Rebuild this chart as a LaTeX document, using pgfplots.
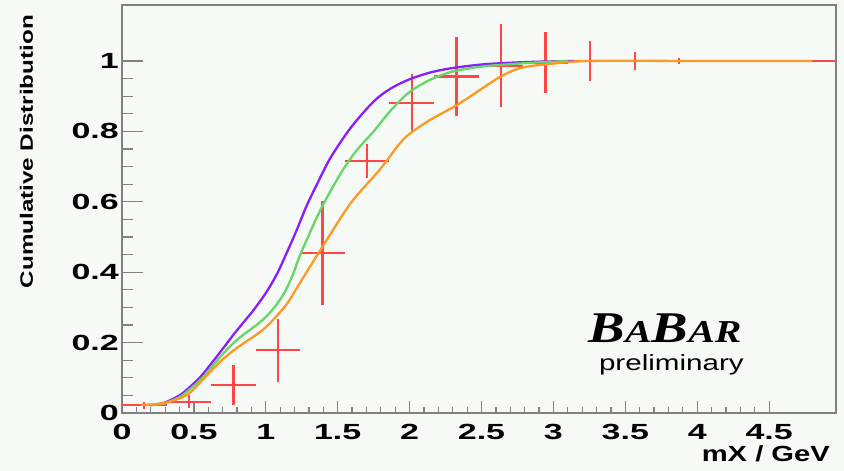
\documentclass[border=0pt]{standalone}
\usepackage{pgfplots}
\pgfplotsset{compat=1.18}
\usepackage{pgfplotstable}
\usepackage{graphicx}
\usepackage{fontspec}
\setmainfont{Liberation Sans}
\newfontfamily\babarfont{Liberation Serif}
\definecolor{bg}{RGB}{246,250,247}
\definecolor{cpurple}{RGB}{138,30,255}
\definecolor{cgreen}{RGB}{102,214,102}
\definecolor{corange}{RGB}{255,153,34}
\definecolor{cred}{RGB}{255,70,70}
\definecolor{framec}{RGB}{128,128,128}

\pgfplotstableread{
x      y      ex     ey
0.155  0.022  0.155  0.010
0.465  0.032  0.155  0.018
0.775  0.080  0.155  0.057
1.085  0.178  0.155  0.089
1.395  0.455  0.155  0.148
1.705  0.715  0.155  0.048
2.015  0.880  0.155  0.082
2.325  0.956  0.155  0.112
2.635  0.986  0.155  0.118
2.945  0.995  0.155  0.087
3.255  0.999  0.155  0.057
3.565  1.000  0.155  0.025
3.875  1.000  0.155  0.008
4.185  1.000  0.155  0.003
4.495  1.000  0.155  0.000
4.805  1.000  0.155  0.000
}\datatab

\begin{document}
\begin{tikzpicture}
\fill[bg] (-122bp,-58bp) rectangle (722bp,413bp);
\useasboundingbox (-122bp,-58bp) rectangle (722bp,413bp);
\begin{axis}[
  at={(0,0)}, anchor=south west,
  width=714bp, height=408bp, scale only axis,
  xmin=0, xmax=4.965, ymin=0, ymax=1.159,
  axis background/.style={fill=bg},
  axis line style={framec, line width=1.5bp},
  tick style={framec, line width=1.2bp},
  tick align=inside, xtick pos=bottom, ytick pos=left,
  xtick={0,0.5,1,1.5,2,2.5,3,3.5,4,4.5}, minor x tick num=4,
  ytick={0,0.2,0.4,0.6,0.8,1}, minor y tick num=3,
  major tick length=12bp, minor tick length=6bp,
  ytick style={draw=none},
  ticklabel style={font=\fontsize{22}{22}\selectfont\bfseries},
  xticklabel={\scalebox{1.55}[1]{\pgfmathprintnumber[assume math mode=true]{\tick}}},
  yticklabel={\scalebox{1.55}[1]{\pgfmathprintnumber[assume math mode=true]{\tick}}},
  xticklabel style={inner ysep=0bp, yshift=-11bp},
  yticklabel style={inner xsep=3bp},
  xlabel={\scalebox{1.33}[1]{mX / GeV}},
  xlabel style={at={(axis description cs:1,0)}, anchor=base east, inner sep=0pt,
    xshift=-6bp, yshift=-48bp, font=\fontsize{22}{22}\selectfont\bfseries},
  ylabel={\scalebox{1.35}[1]{Cumulative Distribution}},
  ylabel style={at={(axis description cs:-0.1337,0.9755)}, anchor=east, rotate=0, inner sep=0pt,
    font=\fontsize{18}{18}\selectfont\bfseries},
]
\addplot[draw=none, mark=none,
  error bars/.cd, x dir=both, x explicit, y dir=both, y explicit,
  error mark=none, error bar style={draw=cred, line width=2.3bp}]
  table[x=x, y=y, x error=ex, y error=ey] {\datatab};

\addplot[cpurple, line width=2.3bp, smooth] coordinates {
(0.20,0.022)(0.30,0.030)(0.40,0.050)(0.45,0.066)(0.54,0.100)(0.62,0.140)
(0.70,0.182)(0.78,0.225)(0.85,0.260)(0.92,0.295)(1.01,0.347)(1.08,0.397)
(1.14,0.450)(1.21,0.515)(1.28,0.585)(1.35,0.645)(1.45,0.725)(1.59,0.810)
(1.75,0.885)(1.87,0.922)(2.00,0.948)(2.15,0.968)(2.30,0.980)(2.50,0.990)
(2.70,0.995)(2.90,0.998)(3.15,1.000)};

\addplot[cgreen, line width=2.3bp, smooth] coordinates {
(0.20,0.022)(0.30,0.028)(0.40,0.045)(0.45,0.060)(0.56,0.100)(0.68,0.158)
(0.80,0.208)(0.96,0.258)(1.05,0.295)(1.13,0.342)(1.19,0.395)(1.24,0.450)
(1.38,0.577)(1.52,0.680)(1.63,0.745)(1.75,0.800)(1.87,0.860)(2.00,0.912)
(2.15,0.948)(2.30,0.970)(2.50,0.984)(2.70,0.991)(2.90,0.996)(3.10,1.000)};

\addplot[corange, line width=2.3bp, smooth] coordinates {
(0.13,0.023)(0.29,0.028)(0.45,0.051)(0.56,0.094)(0.68,0.145)(0.80,0.185)
(0.96,0.230)(1.05,0.264)(1.15,0.312)(1.22,0.358)(1.38,0.463)(1.59,0.596)
(1.79,0.690)(1.93,0.765)(2.00,0.793)(2.14,0.832)(2.33,0.875)(2.49,0.918)
(2.63,0.955)(2.77,0.980)(2.96,0.991)(3.25,1.000)(4.00,1.000)(4.80,1.000)};

\node[anchor=base, font=\babarfont\bfseries\itshape] at (axis cs:3.776,0.199)
  {\scalebox{1.25}[1]{\fontsize{44}{44}\selectfont B\fontsize{32}{32}\selectfont A\fontsize{44}{44}\selectfont B\fontsize{32}{32}\selectfont AR}};
\node[anchor=base] at (axis cs:3.82,0.122)
  {\scalebox{1.35}[1]{\fontsize{22}{22}\selectfont preliminary}};
\end{axis}
\begin{axis}[
  at={(0,0)}, anchor=south west,
  width=714bp, height=408bp, scale only axis,
  xmin=0, xmax=4.965, ymin=0, ymax=1.159,
  axis line style={draw=none},
  tick style={framec, line width=1.2bp},
  tick align=inside, ytick pos=left,
  xtick=\empty,
  ytick={0,0.2,0.4,0.6,0.8,1}, minor y tick num=3,
  yticklabels={},
  major tick length=21bp, minor tick length=10.5bp,
]
\end{axis}
\end{tikzpicture}
\end{document}
